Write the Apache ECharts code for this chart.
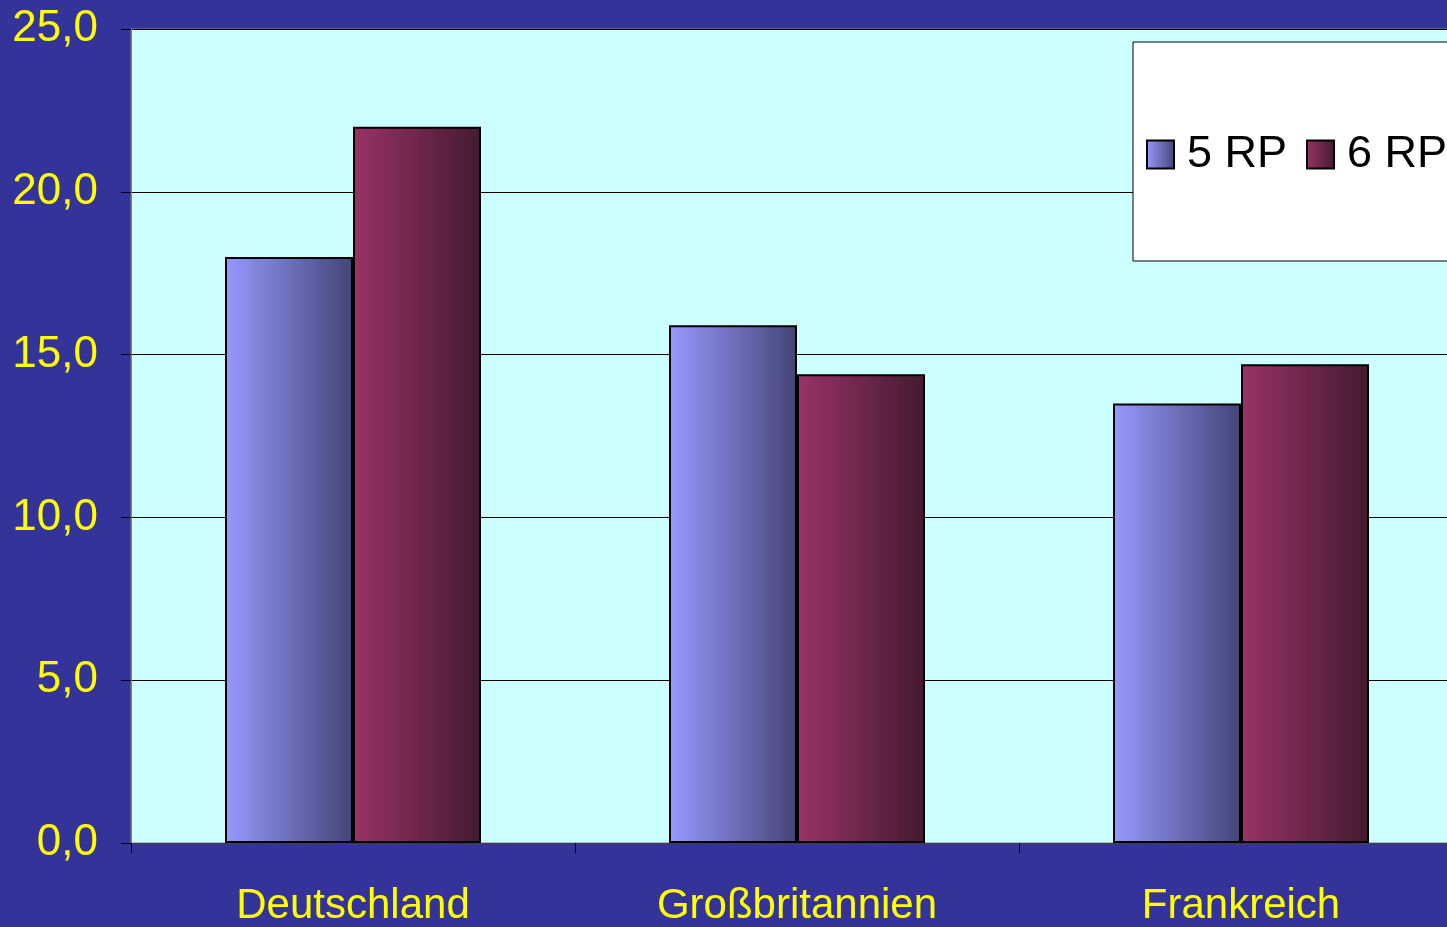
<!DOCTYPE html>
<html>
<head>
<meta charset="utf-8">
<script src="https://cdn.jsdelivr.net/npm/echarts@6/dist/echarts.min.js"></script>
<style>
html,body{margin:0;padding:0;background:#333399;overflow:hidden;}
#chart{width:1463px;height:927px;}
</style>
</head>
<body>
<div id="chart"></div>
<script>
var categories = ['Deutschland', 'Großbritannien', 'Frankreich'];
var seriesNames = ['5 RP', '6 RP'];
var values5RP = [18.0, 15.9, 13.5];
var values6RP = [22.0, 14.4, 14.7];
var yTicks = {min: 0, max: 25, interval: 5};

var chart = echarts.init(document.getElementById('chart'));
function grad(a, b) {
  return new echarts.graphic.LinearGradient(0, 0, 1, 0, [{offset: 0, color: a}, {offset: 1, color: b}]);
}
var font = '"Liberation Sans", Arial, sans-serif';
chart.setOption({
  backgroundColor: '#333399',
  animation: false,
  grid: {
    left: 131, top: 29, right: 0, height: 816,
    show: true, backgroundColor: '#CCFFFF', borderColor: '#808080', borderWidth: 1
  },
  legend: {
    left: 1133, top: 42, orient: 'horizontal', width: 600,
    backgroundColor: '#ffffff', borderColor: '#000000', borderWidth: 1,
    padding: [90, 200, 84, 13],
    icon: 'rect',
    itemWidth: 27, itemHeight: 28, itemGap: 19,
    textStyle: {color: '#000', fontSize: 45, fontFamily: font, padding: [0, 0, 0, 8]},
    data: seriesNames
  },
  xAxis: {
    type: 'category',
    data: categories,
    axisLine: {show: true, lineStyle: {color: '#404040', width: 1}},
    axisTick: {show: true, length: 10, lineStyle: {color: '#000'}},
    axisLabel: {color: '#FFFF00', fontSize: 42, fontFamily: font, margin: 42},
    splitLine: {show: false}
  },
  yAxis: {
    type: 'value',
    min: yTicks.min, max: yTicks.max, interval: yTicks.interval,
    axisLine: {show: true, lineStyle: {color: '#808080', width: 1}},
    axisTick: {show: true, length: 10, lineStyle: {color: '#000'}},
    axisLabel: {color: '#FFFF00', fontSize: 44, fontFamily: font, margin: 33,
      formatter: function (v) { return v.toFixed(1).replace('.', ','); }},
    splitLine: {show: true, lineStyle: {color: '#000', width: 1}}
  },
  series: [
    {
      name: seriesNames[0], type: 'bar', data: values5RP,
      barWidth: 128, barGap: '0%',
      itemStyle: {color: grad('#9999FF', '#444477'), borderColor: '#000', borderWidth: 2}
    },
    {
      name: seriesNames[1], type: 'bar', data: values6RP,
      barWidth: 128, barGap: '0%',
      itemStyle: {color: grad('#993366', '#441A30'), borderColor: '#000', borderWidth: 2}
    }
  ]
});
</script>
</body>
</html>
